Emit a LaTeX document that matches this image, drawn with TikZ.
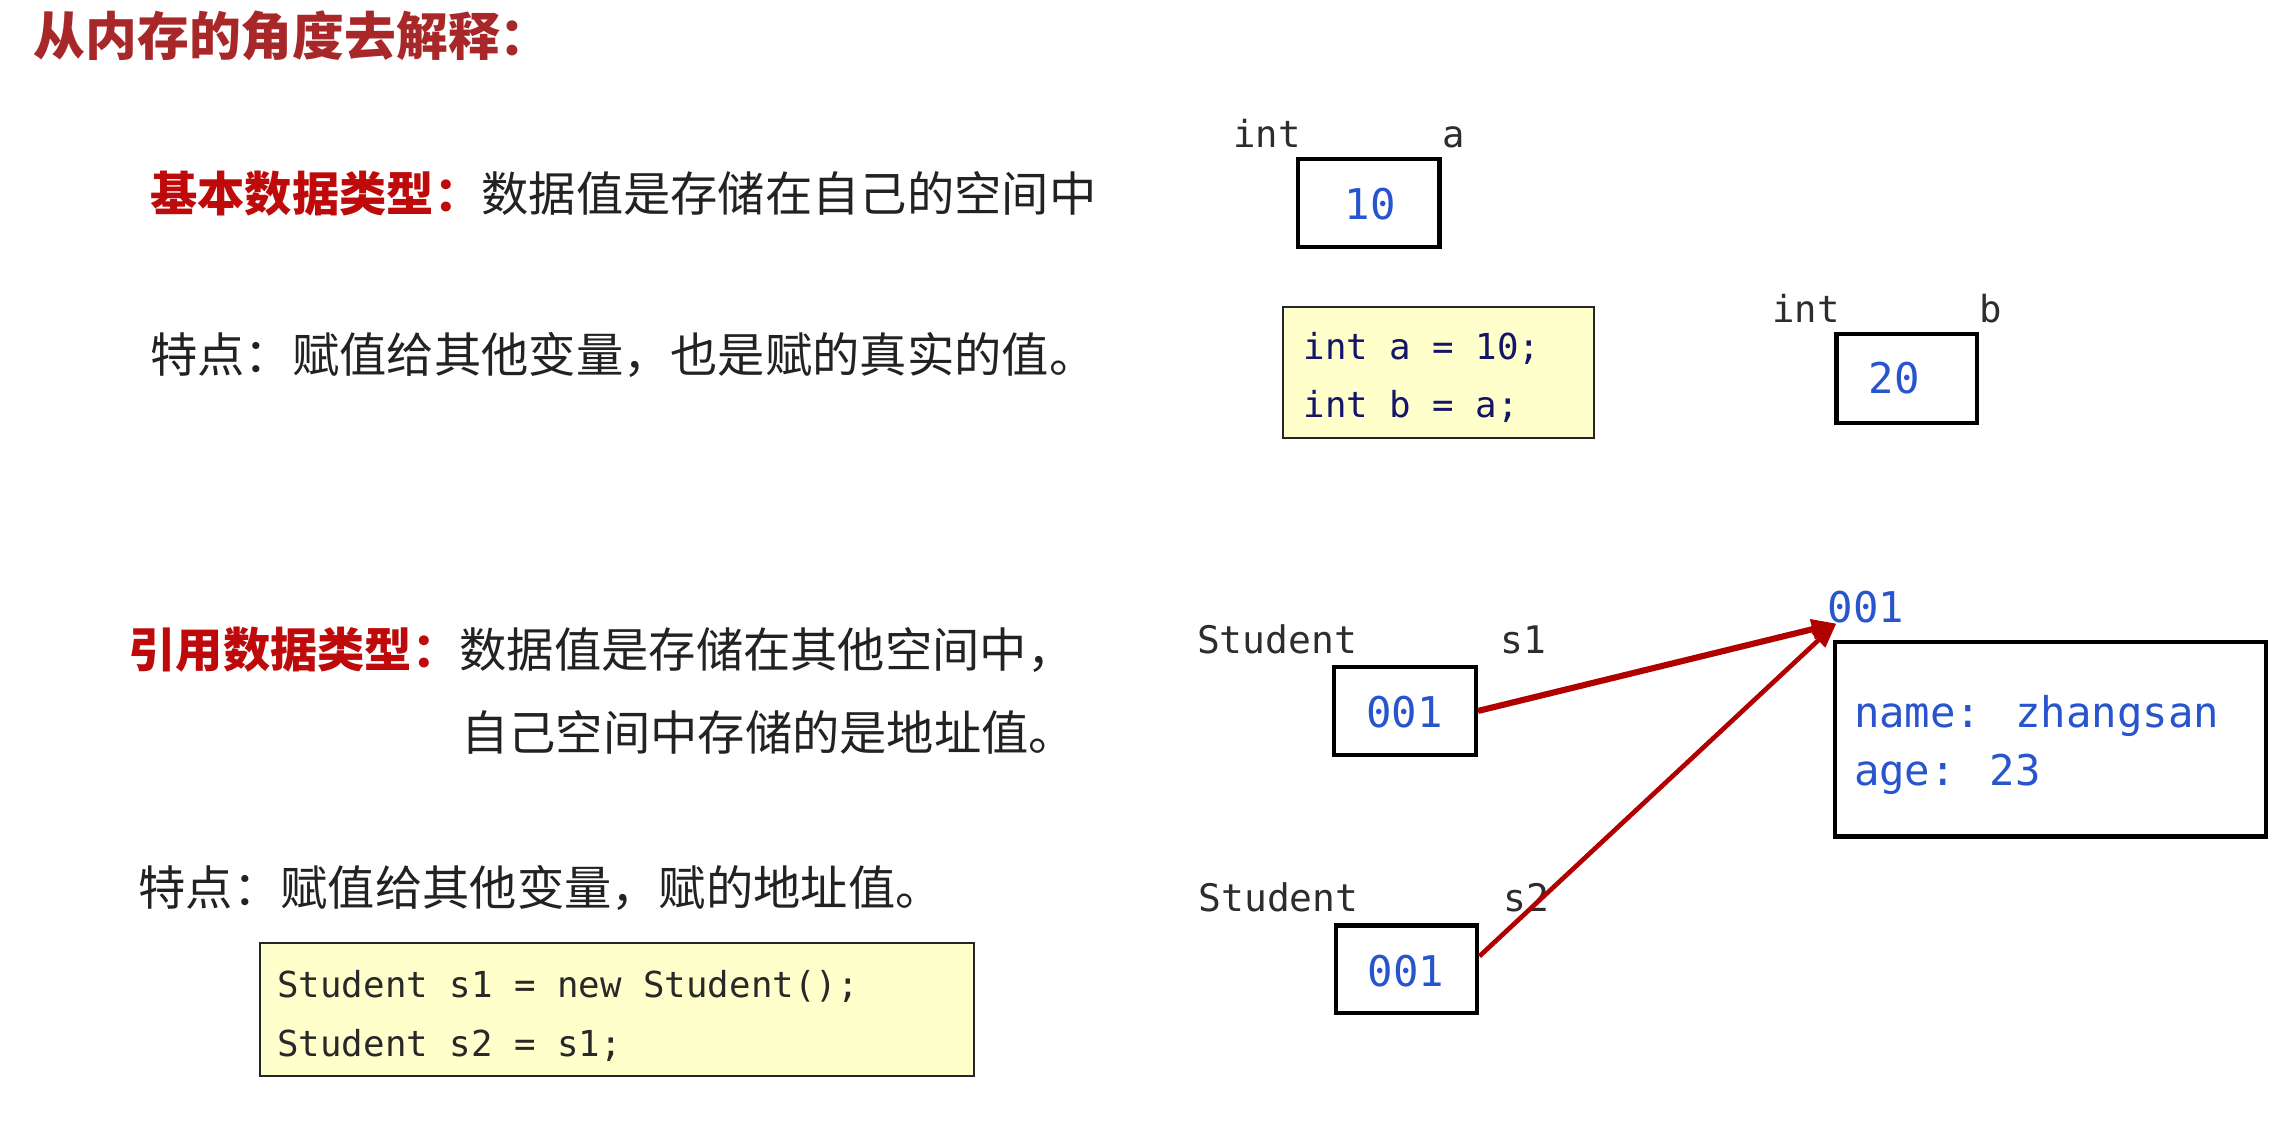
\documentclass[tikz,border=0pt]{standalone}
\usepackage{fontspec}
\newfontfamily\cjk{Noto Sans CJK SC}
\newfontfamily\mono{DejaVu Sans Mono}
\usetikzlibrary{arrows.meta}
\definecolor{titlered}{RGB}{168,40,42}
\definecolor{keyred}{RGB}{190,10,10}
\definecolor{bodytext}{RGB}{34,34,34}
\definecolor{labelgray}{RGB}{45,45,45}
\definecolor{valblue}{RGB}{40,85,205}
\definecolor{codenavy}{RGB}{20,20,105}
\definecolor{codedark}{RGB}{40,40,40}
\definecolor{codeyellow}{RGB}{255,255,204}
\definecolor{arrowred}{RGB}{176,0,0}
\begin{document}
\begin{tikzpicture}[x=1pt,y=-1pt,
  txt/.style={anchor=base west,inner sep=0pt,outer sep=0pt},
  cn/.style={txt,font=\cjk\fontsize{32.4}{38}\selectfont,text=bodytext},
  lbl/.style={txt,font=\mono\fontsize{25.5}{30}\selectfont,text=labelgray},
  val/.style={txt,font=\mono\fontsize{29}{34}\selectfont,text=valblue},
  code/.style={txt,font=\mono\fontsize{24.5}{30}\selectfont},
  membox/.style={draw=black,line width=2.9pt,rectangle,inner sep=0pt},
  codebox/.style={draw=black!85,line width=1.3pt,fill=codeyellow,rectangle,inner sep=0pt},
  refarrow/.style={draw=arrowred,-{Triangle[length=17pt,width=13pt]}}
]
\useasboundingbox (0,0) rectangle (1568,772);
\fill[white] (0,0) rectangle (1568,772);

% title
\node[txt,font=\cjk\bfseries\fontsize{35.5}{42}\selectfont,text=titlered] (title) at (23,38) {从内存的角度去解释：};

% left texts
\node[cn] (l1) at (103,145) {\textcolor{keyred}{\bfseries 基本数据类型：}数据值是存储在自己的空间中};
\node[cn] (l2) at (103,255) {特点：赋值给其他变量，也是赋的真实的值。};
\node[cn] (l3) at (88,457) {\textcolor{keyred}{\bfseries 引用数据类型：}数据值是存储在其他空间中，};
\node[cn] (l4) at (316,514) {自己空间中存储的是地址值。};
\node[cn] (l5) at (95,620) {特点：赋值给其他变量，赋的地址值。};

% code box 2
\node[codebox,minimum width=489pt,minimum height=91pt] (code2) at (422.5,691.5) {};
\node[code,text=codedark] (c2a) at (190,683) {Student s1 = new Student();};
\node[code,text=codedark] (c2b) at (190,724) {Student s2 = s1;};

% int a
\node[lbl] (inta) at (845,101) {int};
\node[lbl] (namea) at (988,101) {a};
\node[membox,minimum width=97pt,minimum height=60pt] (boxa) at (937.5,139) {};
\node[val] (vala) at (921,150.5) {10};

% code box 1
\node[codebox,minimum width=213pt,minimum height=90pt] (code1) at (985.5,255) {};
\node[code,text=codenavy] (c1a) at (893,246) {int a = 10;};
\node[code,text=codenavy] (c1b) at (893,286) {int b = a;};

% int b
\node[lbl] (intb) at (1214,221) {int};
\node[lbl] (nameb) at (1356,221) {b};
\node[membox,minimum width=96pt,minimum height=61pt] (boxb) at (1306,259.5) {};
\node[val] (valb) at (1280,269.5) {20};

% Student s1
\node[lbl,font=\mono\fontsize{26}{30}\selectfont] (st1) at (820,447.5) {Student};
\node[lbl,font=\mono\fontsize{26}{30}\selectfont] (ns1) at (1028,447.5) {s1};
\node[membox,minimum width=97pt,minimum height=60pt] (boxs1) at (962.5,487) {};
\node[val] (vals1) at (936,498.5) {001};

% Student s2
\node[lbl,font=\mono\fontsize{26}{30}\selectfont] (st2) at (821,624.5) {Student};
\node[lbl,font=\mono\fontsize{26}{30}\selectfont] (ns2) at (1030,624.5) {s2};
\node[membox,minimum width=97pt,minimum height=60pt] (boxs2) at (963.5,664) {};
\node[val] (vals2) at (937,675.5) {001};

% object
\node[val] (addr) at (1252,426.5) {001};
\node[membox,minimum width=295pt,minimum height=133pt] (obj) at (1404.5,506.5) {};
\node[val] (oname) at (1270,498) {name: zhangsan};
\node[val] (oage) at (1270,538) {age: 23};

% arrows
\coordinate (tip) at (1258,427);
\draw[refarrow,line width=4.2pt] (boxs1.east) -- (tip);
\draw[refarrow,line width=3.2pt] ([yshift=9pt]boxs2.east) -- (tip);
\end{tikzpicture}
\end{document}
